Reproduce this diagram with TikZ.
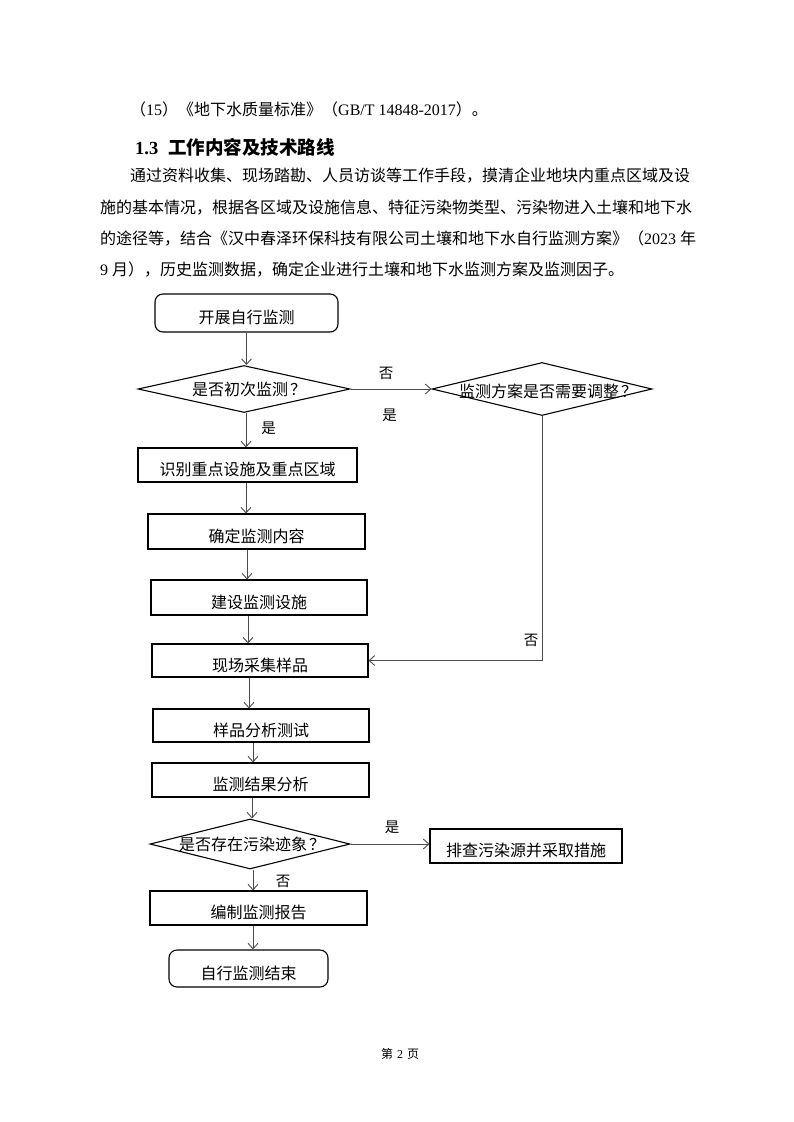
\documentclass[tikz,border=0pt]{standalone}
\usepackage{fontspec}
\setmainfont{Liberation Serif}
\newfontfamily\cjk{Noto Sans CJK SC}
\usetikzlibrary{shapes.geometric,arrows.meta,calc}
\tikzset{
  box/.style={draw=black, line width=1.1pt, rectangle, inner sep=0pt, minimum height=34pt,
    font=\cjk\fontsize{16}{16}\selectfont, text height=21.2pt, text depth=0pt},
  rbox/.style={box, rounded corners=8pt},
  dia/.style={draw=black, line width=1.1pt, diamond, aspect=4, inner sep=0pt,
    font=\cjk\fontsize{16}{16}\selectfont, text height=12.2pt, text depth=0pt},
  lbl/.style={font=\cjk\fontsize{14.5}{14.5}\selectfont, inner sep=0pt, text height=11pt, text depth=0pt},
  arr/.style={draw=black!70, line width=0.9pt, -{Straight Barb[length=5.5pt,width=10pt]}},
  body/.style={anchor=base west, inner sep=0pt, font=\fontsize{16}{16}\selectfont},
}
\begin{document}
\begin{tikzpicture}[x=1pt,y=-1pt]
\fill[white] (0,0) rectangle (793,1122);
\useasboundingbox (0,0) rectangle (793,1122);

% text above the chart
\node[body] (t1) at (130,115) {{\cjk （}15{\cjk ）《地下水质量标准》（}GB/T 14848-2017{\cjk ）。}};
\node[body, font=\bfseries\fontsize{18.5}{18.5}\selectfont] (hd) at (135,154) {1.3\hspace{10pt}{\cjk 工作内容及技术路线}};
\node[body] (p1) at (130,181) {\cjk 通过资料收集、现场踏勘、人员访谈等工作手段，摸清企业地块内重点区域及设};
\node[body] (p2) at (100,213) {\cjk 施的基本情况，根据各区域及设施信息、特征污染物类型、污染物进入土壤和地下水};
\node[body] (p3) at (100,244) {{\cjk 的途径等，结合《汉中春泽环保科技有限公司土壤和地下水自行监测方案》（}2023 {\cjk 年}};
\node[body] (p4) at (100,275) {9 {\cjk 月），历史监测数据，确定企业进行土壤和地下水监测方案及监测因子。}};

% flowchart nodes
\node[rbox, minimum width=183pt, minimum height=38pt] (start) at (246.5,313) {开展自行监测};
\node[dia, minimum width=212pt, minimum height=47pt] (d1) at (244,389) {\makebox[0pt]{\hspace{10pt}是否初次监测\hspace{2pt}？}};
\node[dia, minimum width=220pt, minimum height=53pt, text height=17.2pt] (d2) at (542,389) {\makebox[0pt]{\hspace{12pt}监测方案是否需要调整\hspace{2pt}？}};
\node[box, minimum width=219pt] (b1) at (247.5,465) {识别重点设施及重点区域};
\node[box, minimum width=217pt, minimum height=35pt] (b2) at (256.5,531.5) {确定监测内容};
\node[box, minimum width=216pt, minimum height=35pt] (b3) at (259,597.5) {建设监测设施};
\node[box, minimum width=216pt, minimum height=33pt] (b4) at (260,660.5) {现场采集样品};
\node[box, minimum width=216pt, minimum height=33pt] (b5) at (261,725.5) {样品分析测试};
\node[box, minimum width=217pt] (b6) at (260.5,780) {监测结果分析};
\node[dia, minimum width=200pt, minimum height=50pt] (d3) at (250,844) {\makebox[0pt]{\hspace{4pt}是否存在污染迹象\hspace{2pt}？}};
\node[box, minimum width=192pt] (b8) at (526,846) {排查污染源并采取措施};
\node[box, minimum width=217pt] (b7) at (258.5,908) {编制监测报告};
\node[rbox, minimum width=159pt, minimum height=37pt] (end) at (248.5,968.5) {自行监测结束};

% connectors
\draw[arr] (start.south) -- (start.south |- d1.north);
\draw[arr] ([xshift=2pt]d1.south) -- ([xshift=2pt]d1.south |- b1.north);
\draw[arr] ([xshift=-1.5pt]b1.south) -- ([xshift=-1.5pt]b1.south |- b2.north);
\draw[arr] ([xshift=-9.5pt]b2.south) -- ([xshift=-9.5pt]b2.south |- b3.north);
\draw[arr] ([xshift=-11pt]b3.south) -- ([xshift=-11pt]b3.south |- b4.north);
\draw[arr] ([xshift=-11pt]b4.south) -- ([xshift=-11pt]b4.south |- b5.north);
\draw[arr] ([xshift=-8pt]b5.south) -- ([xshift=-8pt]b5.south |- b6.north);
\draw[arr] ([xshift=-8.5pt]b6.south) -- ([xshift=-8.5pt]b6.south |- d3.north);
\draw[arr] ([xshift=3pt]d3.south) -- ([xshift=3pt]d3.south |- b7.north);
\draw[arr] ([xshift=-5.5pt]b7.south) -- ([xshift=-5.5pt]b7.south |- end.north);
\draw[arr] (d1.east) -- (d2.west);
\draw[arr] (d2.south) |- (b4.east);
\draw[arr] (d3.east) -- (d3.east -| b8.west);

% branch labels
\node[lbl] (l1) at (386,373) {否};
\node[lbl] (l2) at (389.5,415) {是};
\node[lbl] (l3) at (268.5,428) {是};
\node[lbl] (l4) at (531,640) {否};
\node[lbl] (l5) at (392,827) {是};
\node[lbl] (l6) at (283,881) {否};

% page number
\node[anchor=base, inner sep=0pt, font=\fontsize{12}{12}\selectfont] (pg) at (400,1058) {{\cjk 第}\hspace{4pt}2\hspace{4pt}{\cjk 页}};
\end{tikzpicture}
\end{document}
